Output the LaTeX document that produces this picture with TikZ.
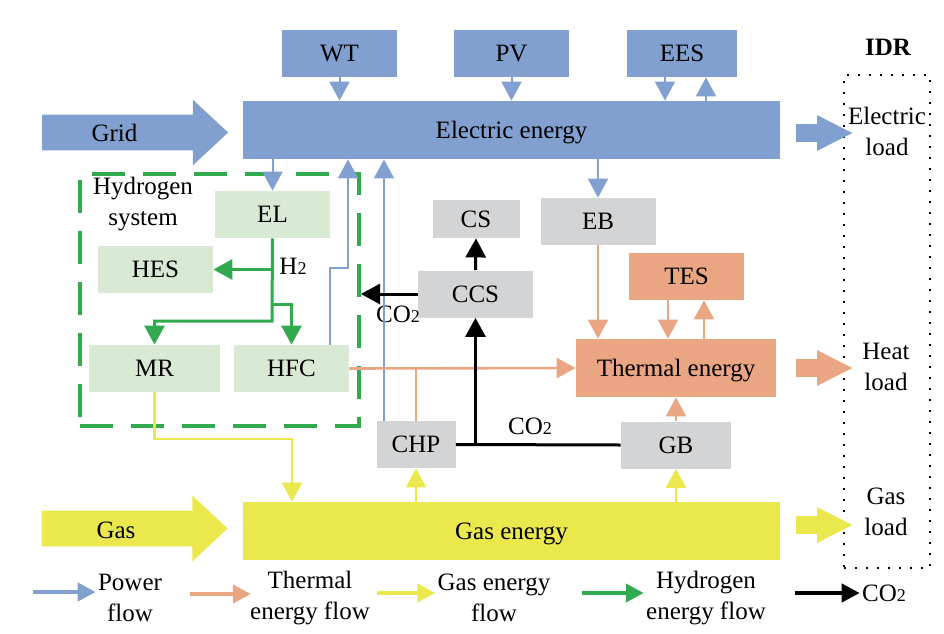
\documentclass[tikz,border=0pt]{standalone}
\usepackage{fontspec}
\setmainfont{Liberation Serif}
\usetikzlibrary{arrows.meta,shapes.arrows}
\definecolor{eblue}{RGB}{129,160,207}
\definecolor{horange}{RGB}{234,165,130}
\definecolor{gyellow}{RGB}{234,232,77}
\definecolor{hgreen}{RGB}{48,169,79}
\definecolor{lgreen}{RGB}{216,233,212}
\definecolor{lgray}{RGB}{211,212,214}
\newcommand{\fs}{\fontsize{12.5}{15.5}\selectfont}
\newcommand{\two}{{\fontsize{9}{10}\selectfont 2}}

\begin{document}
\begin{tikzpicture}
[%%%%%%%%%%%%%%%%%%%%%%%%%%%%%%
x=0.5pt,y=-0.5pt,
box/.style={rectangle,inner sep=0pt,minimum width=57.5pt,minimum height=23.5pt,font=\fs,
  text height=8.3pt,text depth=0pt},
ebox/.style={box,fill=eblue},
hbox/.style={box,fill=lgreen},
gbox/.style={box,fill=lgray},
tbox/.style={box,fill=horange},
lbl/.style={inner sep=1pt,font=\fs,align=center},
tip/.style={-{Triangle[width=10pt,length=9.5pt]}},
pwr/.style={draw=eblue,line width=1pt,tip},
heat/.style={draw=horange,line width=1.3pt,tip},
gasf/.style={draw=gyellow,line width=1.1pt,tip},
hyd/.style={draw=hgreen,line width=1.5pt,tip},
co2/.style={draw=black,line width=1.5pt,tip},
bigarrow/.style={single arrow,inner xsep=0pt,inner ysep=8.75pt,minimum height=93pt,
  single arrow head extend=7.5pt,single arrow tip angle=86},
loadarrow/.style={single arrow,inner xsep=0pt,inner ysep=4.25pt,minimum height=28pt,
  single arrow head extend=4.5pt,single arrow tip angle=54},
legtip/.style={line width=2pt,-{Triangle[width=9pt,length=9pt]}},
]%%%%%%%%%%%%%%%%%%%%%%%%%%%%%%
\useasboundingbox (0,0) rectangle (944,633);

% sources and buses
\node[ebox] (wt) at (339.5,53.5){WT};
\node[ebox] (pv) at (511.5,53.5){PV};
\node[ebox,minimum width=55pt] (ees) at (682,53.5){EES};
\node[ebox,minimum width=268.5pt,minimum height=29pt] (elec) at (511.5,130){Electric energy};
\node[box,fill=gyellow,minimum width=268.5pt,minimum height=29pt] (gas) at (511.5,531){Gas energy};

\node[bigarrow,fill=eblue] (grid) at (125.5,132.5){};
\node[lbl] (gridt) at (114.5,133){Grid};
\node[bigarrow,fill=gyellow] (gasin) at (125,528.5){};
\node[lbl] (gast) at (116,530){Gas};

% hydrogen system
\node[rectangle,draw=hgreen,line width=2pt,dash pattern=on 16.5pt off 9pt,
  minimum width=139.5pt,minimum height=126pt] (hsys) at (219.5,300){};
\node[lbl] (hsyst) at (143,204.5){Hydrogen\\system};
\node[hbox] (el) at (272.5,214.5){EL};
\node[hbox] (hes) at (155.5,269.5){HES};
\node[hbox,minimum width=65.5pt] (mr) at (154.5,368.5){MR};
\node[hbox] (hfc) at (291.5,368.5){HFC};
\node[lbl] (h2) at (293,266){H\two};

% conversion units
\node[gbox,minimum width=43.5pt,minimum height=19pt] (cs) at (476,219){CS};
\node[gbox] (eb) at (598,221.5){EB};
\node[gbox] (ccs) at (475.5,294){CCS};
\node[tbox] (tes) at (686.5,276.5){TES};
\node[tbox,minimum width=100pt,minimum height=29pt] (thermal) at (676,368){Thermal energy};
\node[gbox,minimum width=39.5pt] (chp) at (416,444.5){CHP};
\node[gbox,minimum width=55pt] (gb) at (676,445){GB};
\node[lbl] (co2a) at (398,314){CO\two};
\node[lbl] (co2b) at (530,426){CO\two};

% loads
\node[rectangle,draw,line width=0.8pt,dash pattern=on 0.8pt off 4.7pt,
  minimum width=43pt,minimum height=246.5pt] (idr) at (887,321.5){};
\node[lbl,font=\fs\bfseries] (idrt) at (888,47){IDR};
\foreach \y/\c/\n in {133/eblue/le,368/horange/lh,525/gyellow/lg}
  \node[loadarrow,fill=\c] (\n) at (815.5,\y){};
\node[lbl] (let) at (887,131){Electric\\load};
\node[lbl] (lht) at (886,366.5){Heat\\load};
\node[lbl] (lgt) at (886,512){Gas\\load};

% power flow
\draw[pwr] (wt.south) -- (wt.south |- elec.north);
\draw[pwr] (pv.south) -- (pv.south |- elec.north);
\draw[pwr] ([xshift=-8.5pt]ees.south) -- ([xshift=-8.5pt]ees.south |- elec.north);
\draw[pwr] ([xshift=12pt]ees.south |- elec.north) -- ([xshift=12pt]ees.south);
\draw[pwr] (elec.south -| el) -- (el.north);
\draw[pwr] (elec.south -| eb) -- (eb.north);
\coordinate (hk) at (348,268);
\draw[pwr] ([xshift=19.25pt]hfc.north) |- (hk) -- (hk |- elec.south);
\draw[pwr] ([xshift=-16pt]chp.north) -- ([xshift=-16pt]chp.north |- elec.south);

% hydrogen flow
\coordinate (hj1) at (272,304);
\coordinate (hj2) at (272,321);
\draw[hyd] (el.south) -- (hj2) -| (mr.north);
\draw[hyd] (el.south |- hes.east) -- (hes.east);
\draw[hyd] (hj1) -| (hfc.north);

% heat flow
\draw[heat] (hfc.east) -- (thermal.west);
\draw[draw=horange,line width=1.3pt] (chp.north) -- (chp.north |- hfc.east);
\draw[heat] (eb.south) -- (eb.south |- thermal.north);
\draw[heat] ([xshift=-9.25pt]tes.south) -- ([xshift=-9.25pt]tes.south |- thermal.north);
\draw[heat] ([xshift=8.75pt]tes.south |- thermal.north) -- ([xshift=8.75pt]tes.south);
\draw[heat] (gb.north) -- (gb.north |- thermal.south);

% gas flow
\coordinate (mj) at (292,439);
\draw[gasf] (mr.south) |- (mj) -- (mj |- gas.north);
\draw[gasf] (gas.north -| chp) -- (chp.south);
\draw[gasf] (gas.north -| gb) -- (gb.south);

% CO2
\draw[draw=black,line width=1.5pt] (chp.east) -- (gb.west);
\draw[co2] (chp.east -| ccs) -- (ccs.south);
\draw[co2] (ccs.north) -- (cs.south);
\draw[co2] (ccs.west) -- (ccs.west -| hsys.east);

% legend
\node[lbl] (legp) at (130,597.5){Power\\flow};
\node[lbl] (legh) at (310,598){Thermal\\energy flow};
\node[lbl] (legg) at (494,598){Gas energy\\flow};
\node[lbl] (legy) at (706,598){Hydrogen\\energy flow};
\node[lbl] (legc) at (884,593){CO\two};
\coordinate (lp) at (33,592);
\coordinate (lh) at (190,594);
\coordinate (lg) at (377,593);
\coordinate (ly) at (582,593);
\coordinate (lc) at (795,593);
\draw[legtip,eblue] (lp) -- (lp -| legp.west);
\draw[legtip,horange] (lh) -- ([xshift=1.5pt]lh -| legh.west);
\draw[legtip,gyellow] (lg) -- (lg -| legg.west);
\draw[legtip,hgreen] (ly) -- (ly -| legy.west);
\draw[legtip,black] (lc) -- (lc -| legc.west);
\end{tikzpicture}
\end{document}
